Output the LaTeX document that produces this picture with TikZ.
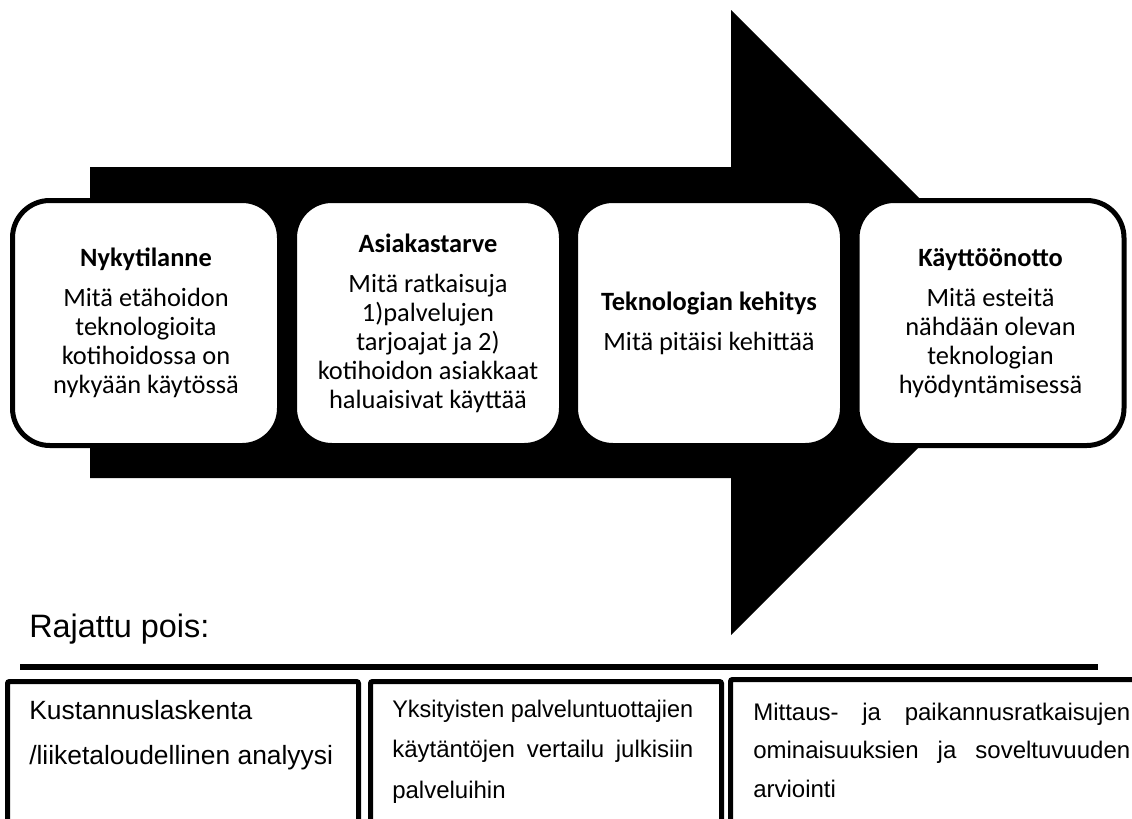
\documentclass[tikz,border=0pt]{standalone}
\usepackage{fontspec}
\usepackage{graphicx}
\setmainfont{Carlito}
\newfontfamily\arialfont{Liberation Sans}
\begin{document}
\begin{tikzpicture}[x=0.75pt,y=-0.75pt,
  stage/.style={draw=black, fill=white, line width=3.75pt, rounded corners=28pt,
    minimum width=200.25pt, minimum height=183.75pt, inner sep=0pt,
    align=center, font=\fontsize{19.8}{21.75}\selectfont},
  panel/.style={draw=black, line width=3.75pt, rounded corners=1.5pt},
  paneltext/.style={anchor=base west, inner sep=0pt},
]
\useasboundingbox (0,0) rectangle (1132,818);
\clip (0,0) rectangle (1132,818);

% big process arrow behind the stages
\fill[black] (90,167) -- (731,167) -- (731,10) -- (1043.5,322.5)
  -- (731,635) -- (731,478) -- (90,478) -- cycle;

% stages
\node[stage] (nyky) at (146,323)
  {{\bfseries Nykytilanne}\\[8.25pt]Mitä etähoidon\\teknologioita\\kotihoidossa on\\nykyään käytössä};
\node[stage] (asiakas) at (428,323)
  {{\bfseries Asiakastarve}\\[8.25pt]Mitä ratkaisuja\\1)palvelujen\\tarjoajat ja 2)\\kotihoidon asiakkaat\\haluaisivat käyttää};
\node[stage] (kehitys) at (709,323)
  {{\bfseries Teknologian kehitys}\\[8.25pt]Mitä pitäisi kehittää};
\node[stage] (kaytto) at (990.5,323)
  {{\bfseries Käyttöönotto}\\[8.25pt]Mitä esteitä\\nähdään olevan\\teknologian\\hyödyntämisessä};

% excluded topics
\node[anchor=base west, inner sep=0pt, font=\arialfont\fontsize{24.3}{29}\selectfont]
  (rajattu) at (29,637) {Rajattu pois:};
\draw[line width=4.5pt] (20,667) -- (1098,667);

\draw[panel] (7.5,840) -- (7.5,681.5) -- (358.5,681.5) -- (358.5,840);
\draw[panel] (370.5,840) -- (370.5,681.5) -- (721.5,681.5) -- (721.5,840);
\draw[panel] (730.5,840) -- (730.5,679.5) -- (1145,679.5);

\node[paneltext, font=\arialfont\fontsize{19.8}{33.75}\selectfont] (kust) at (29,719)
  {\parbox[t]{300pt}{Kustannuslaskenta\\/liiketaloudellinen analyysi}};
\node[paneltext, font=\arialfont\fontsize{18}{30.4}\selectfont] (yksit) at (392,717)
  {\parbox[t]{225.75pt}{\resizebox{\linewidth}{\height}{Yksityisten palveluntuottajien}\\
   \makebox[\linewidth][s]{käytäntöjen vertailu julkisiin}\\palveluihin}};
\node[paneltext, font=\arialfont\fontsize{18}{29}\selectfont] (mittaus) at (753,720)
  {\parbox[t]{282.75pt}{\makebox[\linewidth][s]{Mittaus- ja paikannusratkaisujen}\\
   \makebox[\linewidth][s]{ominaisuuksien ja soveltuvuuden}\\arviointi}};
\end{tikzpicture}
\end{document}
